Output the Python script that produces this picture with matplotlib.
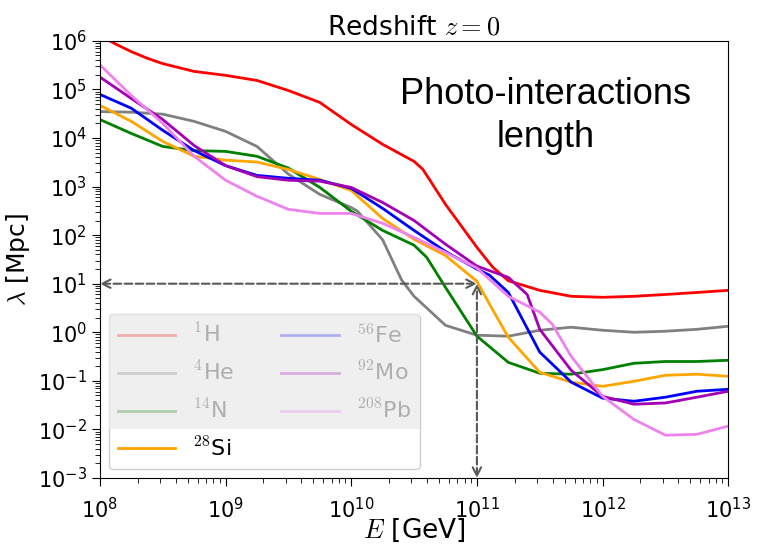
import numpy as np
import matplotlib
matplotlib.use("Agg")
import matplotlib.pyplot as plt
from matplotlib.ticker import LogLocator
from matplotlib.patches import Rectangle

plt.rcParams['mathtext.fontset'] = 'cm'
plt.rcParams['font.family'] = ['DejaVu Sans']

# photo-interaction lengths at z = 0, log10(E/GeV) vs lambda [Mpc]
logE_H = [8.0, 8.125, 8.25, 8.375, 8.5, 8.75, 9.0, 9.25, 9.5, 9.75, 10.0, 10.25, 10.5, 10.57,
          10.75, 11.0, 11.125, 11.25, 11.5, 11.75, 12.0, 12.25, 12.5, 12.75, 13.0]
lam_H = [1.3e6, 8.6e5, 6.0e5, 4.4e5, 3.4e5, 2.35e5, 1.95e5, 1.53e5, 9.5e4, 5.4e4, 1.9e4, 7.4e3, 3.3e3, 2.26e3,
         430, 56, 22, 11.5, 7.3, 5.5, 5.25, 5.5, 6.0, 6.6, 7.3]

logE_He = [8.0, 8.25, 8.5, 8.75, 9.0, 9.25, 9.5, 9.75, 10.0, 10.05, 10.25, 10.4, 10.5,
           10.75, 11.0, 11.25, 11.5, 11.75, 12.0, 12.25, 12.5, 12.75, 13.0]
lam_He = [3.5e4, 3.4e4, 3.1e4, 2.2e4, 1.37e4, 6.7e3, 1.8e3, 690, 370, 310, 80, 12, 5.5,
          1.39, 0.87, 0.83, 1.1, 1.27, 1.1, 1.0, 1.05, 1.15, 1.33]

logE_N = [8.0, 8.25, 8.5, 8.75, 9.0, 9.25, 9.5, 9.75, 10.0, 10.25, 10.5, 10.6,
          10.75, 11.0, 11.25, 11.5, 11.75, 12.0, 12.25, 12.5, 12.75, 13.0]
lam_N = [2.4e4, 1.24e4, 6.7e3, 5.5e3, 5.3e3, 4.2e3, 2.4e3, 960, 310, 125, 62, 35,
         8.4, 0.83, 0.24, 0.143, 0.137, 0.17, 0.23, 0.25, 0.25, 0.265]

logE_Si = [8.0, 8.25, 8.5, 8.75, 9.0, 9.25, 9.5, 9.75, 10.0, 10.25, 10.5, 10.75,
           11.0, 11.1, 11.25, 11.5, 11.75, 12.0, 12.25, 12.5, 12.75, 13.0]
lam_Si = [4.7e4, 2.2e4, 8.5e3, 4.2e3, 3.5e3, 3.2e3, 2.25e3, 1.4e3, 830, 220, 82, 38,
          11.2, 3.8, 0.79, 0.15, 0.094, 0.077, 0.098, 0.13, 0.137, 0.124]

logE_Fe = [8.0, 8.25, 8.5, 8.75, 9.0, 9.25, 9.5, 9.75, 10.0, 10.25, 10.5, 10.75,
           11.0, 11.1, 11.25, 11.5, 11.75, 12.0, 12.25, 12.5, 12.75, 13.0]
lam_Fe = [7.9e4, 4.1e4, 1.44e4, 5.5e3, 2.7e3, 1.7e3, 1.48e3, 1.35e3, 920, 355, 125, 46,
          20, 15, 6.6, 0.39, 0.094, 0.044, 0.038, 0.046, 0.061, 0.067]

logE_Mo = [8.0, 8.25, 8.5, 8.75, 9.0, 9.25, 9.5, 9.75, 10.0, 10.25, 10.5, 10.75,
           11.0, 11.25, 11.4, 11.5, 11.75, 12.0, 12.25, 12.5, 12.75, 13.0]
lam_Mo = [1.8e5, 6.5e4, 2.4e4, 7.0e3, 2.7e3, 1.6e3, 1.35e3, 1.29e3, 960, 470, 200, 65,
          23, 13.5, 6.0, 1.15, 0.165, 0.048, 0.033, 0.035, 0.046, 0.061]

logE_Pb = [8.0, 8.25, 8.5, 8.75, 9.0, 9.25, 9.5, 9.75, 10.0, 10.25, 10.5, 10.75,
           11.0, 11.25, 11.5, 11.6, 11.75, 12.0, 12.25, 12.5, 12.75, 13.0]
lam_Pb = [3.2e5, 7.5e4, 2.0e4, 4.2e3, 1.35e3, 630, 340, 280, 280, 175, 90, 44,
          21, 5.5, 2.6, 1.46, 0.32, 0.048, 0.016, 0.0076, 0.0079, 0.0117]

labels = [r'$^{1}$H', r'$^{4}$He', r'$^{14}$N', r'$^{28}$Si',
          r'$^{56}$Fe', r'$^{92}$Mo', r'$^{208}$Pb']
colors = ['red', 'gray', 'green', 'orange', 'blue', '#a300b5', 'violet']
series = [(logE_H, lam_H), (logE_He, lam_He), (logE_N, lam_N), (logE_Si, lam_Si),
          (logE_Fe, lam_Fe), (logE_Mo, lam_Mo), (logE_Pb, lam_Pb)]

fig = plt.figure(figsize=(7.57, 5.45), dpi=100)
ax = fig.add_axes([0.132, 0.123, 0.83, 0.802])

for (lx, lam), c, lab in zip(series, colors, labels):
    ax.plot(10**np.array(lx), lam, color=c, lw=2, label=lab)

ax.set_xscale('log')
ax.set_yscale('log')
ax.set_xlim(1e8, 1e13)
ax.set_ylim(1e-3, 1e6)
ax.xaxis.set_major_locator(LogLocator(base=10, numticks=20))
ax.yaxis.set_major_locator(LogLocator(base=10, numticks=20))
ax.yaxis.set_minor_locator(LogLocator(base=10, subs=np.arange(2, 10), numticks=20))
ax.xaxis.set_minor_locator(LogLocator(base=10, subs=np.arange(2, 10), numticks=20))
ax.tick_params(which='major', labelsize=15, length=6)
ax.tick_params(axis='x', which='major', pad=8)
ax.tick_params(which='minor', length=3.5)

ax.set_xlabel(r'$E$ [GeV]', fontsize=19, labelpad=-4)
ax.set_ylabel(r'$\lambda$ [Mpc]', fontsize=18, labelpad=4)
ax.set_title(r'Redshift $z=0$', fontsize=19, pad=4)

ax.text(0.709, 0.828, 'Photo-interactions\nlength', transform=ax.transAxes,
        ha='center', va='center', fontsize=26, family='Liberation Sans',
        multialignment='center', linespacing=1.32)

# E = 1e11 GeV -> lambda ~ 10 Mpc
arrow = dict(arrowstyle='<->', linestyle='--', color='0.35', lw=1.5,
             shrinkA=0, shrinkB=0, mutation_scale=15)
ax.annotate('', xy=(1e8, 10), xytext=(1e11, 10), arrowprops=arrow)
ax.annotate('', xy=(1e11, 10), xytext=(1e11, 1e-3), arrowprops=arrow)

leg = ax.legend(loc='lower left', ncol=2, fontsize=16, framealpha=1,
                handlelength=2.6, labelspacing=0.62, columnspacing=2.1,
                borderaxespad=0.4)

# grey out the first three rows of the legend
fig.canvas.draw()
r = fig.canvas.get_renderer()
fb = leg.legendPatch.get_window_extent(r)
tN = leg.get_texts()[2].get_window_extent(r)
tSi = leg.get_texts()[3].get_window_extent(r)
ycut = 0.5 * (tN.y0 + tSi.y1)
W, H = fig.canvas.get_width_height()
fig.patches.append(Rectangle((fb.x0 / W, ycut / H), fb.width / W, (fb.y1 - ycut) / H,
                             transform=fig.transFigure, facecolor='#eaeaea',
                             edgecolor='none', alpha=0.75, zorder=10))

fig.savefig('out.png', dpi=100)
